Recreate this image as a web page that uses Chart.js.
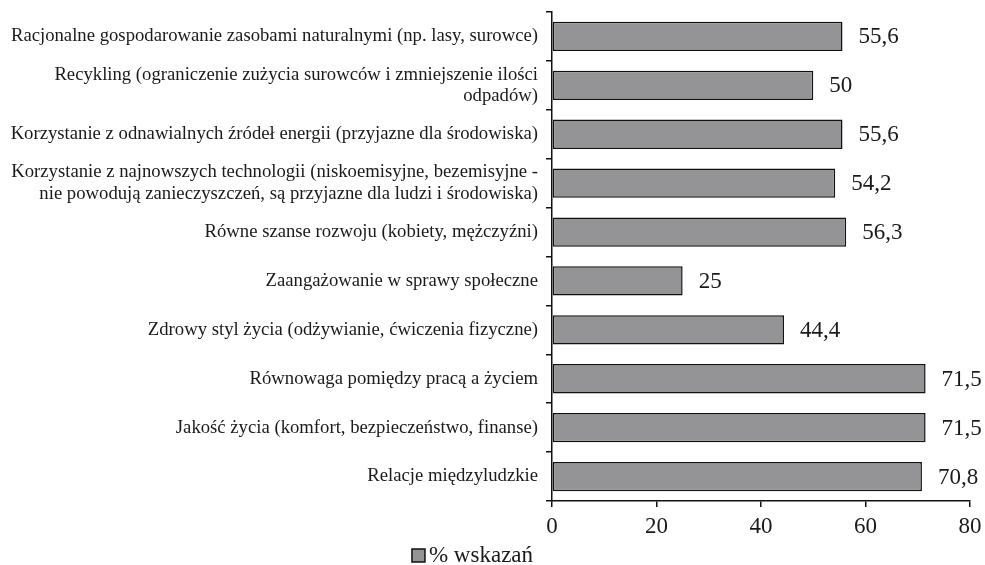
<!DOCTYPE html>
<html>
<head>
<meta charset="utf-8">
<script src="https://cdn.jsdelivr.net/npm/chart.js@4.4.1/dist/chart.umd.min.js"></script>
<style>
  html, body { margin: 0; padding: 0; background: #fff; }
  #wrap { width: 985px; height: 565px; }
</style>
</head>
<body>
<div id="wrap"><canvas id="barChart" width="985" height="565"></canvas></div>
<script>
// chart data -start
var categories = [
	'Racjonalne gospodarowanie zasobami naturalnymi (np. lasy, surowce)',
	['Recykling (ograniczenie zużycia surowców i zmniejszenie ilości', 'odpadów)'],
	'Korzystanie z odnawialnych źródeł energii (przyjazne dla środowiska)',
	['Korzystanie z najnowszych technologii (niskoemisyjne, bezemisyjne -', 'nie powodują zanieczyszczeń, są przyjazne dla ludzi i środowiska)'],
	'Równe szanse rozwoju (kobiety, mężczyźni)',
	'Zaangażowanie w sprawy społeczne',
	'Zdrowy styl życia (odżywianie, ćwiczenia fizyczne)',
	'Równowaga pomiędzy pracą a życiem',
	'Jakość życia (komfort, bezpieczeństwo, finanse)',
	'Relacje międzyludzkie'
];
var values = [55.6, 50, 55.6, 54.2, 56.3, 25, 44.4, 71.5, 71.5, 70.8];
var seriesName = '% wskazań';
var xTicks = [0, 20, 40, 60, 80];
// chart data -end

var serif = '"Liberation Serif", "Times New Roman", serif';
var barFill = '#949496';
var ink = '#1a1a1a';

// value labels at the end of bars -start
var valueLabels = {
	id: 'valueLabels',
	afterDatasetsDraw: function(chart) {
		var ctx = chart.ctx;
		var meta = chart.getDatasetMeta(0);
		ctx.save();
		ctx.font = '23px ' + serif;
		ctx.fillStyle = ink;
		ctx.textAlign = 'left';
		ctx.textBaseline = 'middle';
		meta.data.forEach(function(bar, i) {
			var txt = String(values[i]).replace('.', ',');
			ctx.fillText(txt, bar.x + 16, bar.y + 1);
		});
		ctx.restore();
	}
};
// value labels -end

// legend under the axis (box close to the text) -start
var bottomLegend = {
	id: 'bottomLegend',
	afterDraw: function(chart) {
		var ctx = chart.ctx;
		var ds = chart.data.datasets[0];
		ctx.save();
		ctx.font = '23px ' + serif;
		var w = ctx.measureText(ds.label).width;
		var total = 13 + 4 + w;
		var x0 = chart.width / 2 - 20 - total / 2;
		var yc = 556;
		ctx.fillStyle = ds.backgroundColor;
		ctx.fillRect(x0, yc - 7, 13, 13);
		ctx.strokeStyle = '#111';
		ctx.lineWidth = 1.5;
		ctx.strokeRect(x0, yc - 7, 13, 13);
		ctx.fillStyle = ink;
		ctx.textAlign = 'left';
		ctx.textBaseline = 'middle';
		ctx.fillText(ds.label, x0 + 17, yc);
		ctx.restore();
	}
};
// legend -end

var ctx = document.getElementById('barChart').getContext('2d');
var barChart = new Chart(ctx, {
	type: 'bar',
	data: {
		labels: categories,
		datasets: [{
			label: seriesName,
			data: values,
			backgroundColor: barFill,
			borderColor: '#111',
			borderWidth: 1.5,
			borderSkipped: false,
			categoryPercentage: 1.0,
			barPercentage: 0.6
		}]
	},
	options: {
		indexAxis: 'y',
		responsive: false,
		animation: false,
		layout: { padding: { top: 12, right: 15, left: 0, bottom: 26 } },
		plugins: {
			tooltip: { enabled: false },
			legend: { display: false }
		},
		scales: {
			x: {
				min: 0,
				max: 80,
				afterBuildTicks: function(scale) {
					scale.ticks = xTicks.map(function(v) { return { value: v }; });
				},
				afterFit: function(scale) {
					scale.height = 38;
					scale.paddingLeft = 0;
					scale.paddingRight = 0;
				},
				grid: {
					display: true,
					drawOnChartArea: false,
					drawTicks: true,
					tickLength: 6,
					color: '#111',
					lineWidth: 1.5
				},
				border: { display: true, color: '#111', width: 1.5 },
				ticks: {
					font: { family: serif, size: 23 },
					color: ink,
					padding: 6,
					maxRotation: 0
				}
			},
			y: {
				afterFit: function(scale) {
					scale.width = 552;
					scale.paddingTop = 0;
					scale.paddingBottom = 0;
				},
				grid: {
					display: true,
					offset: true,
					drawOnChartArea: false,
					drawTicks: true,
					tickLength: 6,
					color: '#111',
					lineWidth: 1.5
				},
				border: { display: true, color: '#111', width: 1.5 },
				ticks: {
					font: { family: serif, size: 18.7, lineHeight: 1.15 },
					color: ink,
					padding: 8,
					autoSkip: false
				}
			}
		}
	},
	plugins: [valueLabels, bottomLegend]
});
</script>
</body>
</html>
